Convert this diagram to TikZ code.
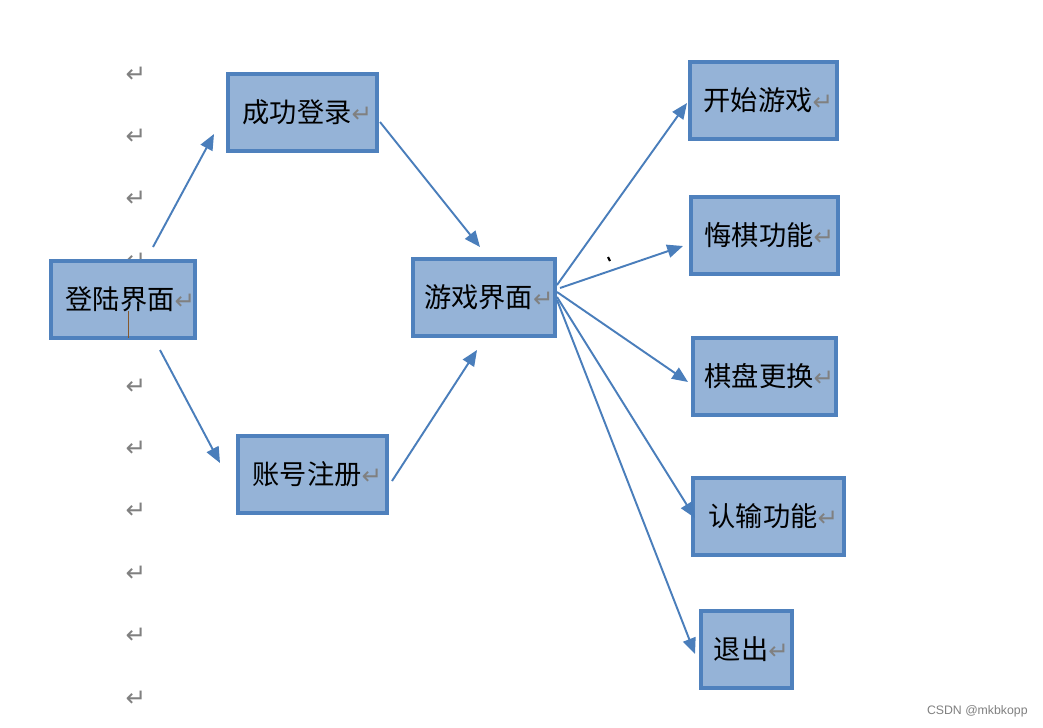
\documentclass[tikz,border=0pt]{standalone}
\usepackage{fontspec}
\newfontfamily\cjk{Noto Sans CJK SC}
\newfontfamily\symb{DejaVu Sans}
\newfontfamily\wm{Liberation Sans}
\usetikzlibrary{arrows.meta}
\definecolor{boxfill}{HTML}{95B3D7}
\definecolor{boxline}{HTML}{4F81BD}
\definecolor{arrline}{HTML}{4A7EBB}
\newcommand{\ret}{{\color{gray}\symb\fontsize{14}{16}\selectfont ↵}}
\tikzset{
  box/.style={draw=boxline, fill=boxfill, line width=2.5pt, minimum height=1.54cm,
    inner sep=0pt, font=\cjk\fontsize{15.5}{18}\selectfont,
    execute at begin node={\hspace{0.2cm}}},
  arr/.style={draw=arrline, line width=1.1pt, -{Triangle[length=9pt,width=7.5pt]}}
}
\begin{document}
\begin{tikzpicture}[x=0.02cm,y=-0.02cm]
   \useasboundingbox[fill=white] (0,0) rectangle (1043,727);
   % paragraph marks in the left column
   \foreach \y in {75,137,199,261,387,449,511,574,636,699}
      \node[inner sep=0pt] at (136,\y) {\ret};
   % boxes
   \node[box, minimum width=2.84cm] (login) at (123,299.5) {\hspace{0.1cm}登陆界面\ret};
   \node[box, minimum width=2.98cm] (succ) at (302.5,112.5) {成功登录\ret};
   \node[box, minimum width=2.98cm] (reg) at (312.5,474.5) {账号注册\ret};
   \node[box, minimum width=2.84cm] (game) at (484,297.5) {游戏界面\ret};
   \node[box, minimum width=2.94cm] (start) at (763.5,100.5) {开始游戏\ret};
   \node[box, minimum width=2.94cm] (undo) at (764.5,235.5) {悔棋功能\ret};
   \node[box, minimum width=2.86cm] (board) at (764.5,376.5) {棋盘更换\ret};
   \node[box, minimum width=3.02cm] (quit) at (768.5,516.5) {认输功能\ret};
   \node[box, minimum width=1.82cm] (exit) at (746.5,649.5) {退出\ret};
   % arrow ends
   \coordinate (l1) at (153,247);   \coordinate (s1) at (214,134);
   \coordinate (l2) at (160,350);   \coordinate (r1) at (220,463);
   \coordinate (s2) at (380,122);   \coordinate (g1) at (480,247);
   \coordinate (r2) at (392,481);   \coordinate (g2) at (477,350);
   \coordinate (g3) at (557,285);   \coordinate (t1) at (687,103);
   \coordinate (g4) at (560,288);   \coordinate (u1) at (683,246);
   \coordinate (g5) at (557,292);   \coordinate (b1) at (688,382);
   \coordinate (g6) at (557,297);   \coordinate (q1) at (695,518);
   \coordinate (g7) at (557,300);   \coordinate (e1) at (695,654);
   \draw[arr] (l1) -- (s1);
   \draw[arr] (l2) -- (r1);
   \draw[arr] (s2) -- (g1);
   \draw[arr] (r2) -- (g2);
   \draw[arr] (g3) -- (t1);
   \draw[arr] (g4) -- (u1);
   \draw[arr] (g5) -- (b1);
   \draw[arr] (g6) -- (q1);
   \draw[arr] (g7) -- (e1);
   % stray marks
   \draw[brown!70!black, line width=0.5pt] (128,311) -- (128,338);
   \draw[line width=1.2pt] (608,257) -- (610,261);
   \node[anchor=east, inner sep=0pt, text=gray, font=\wm\fontsize{7}{9}\selectfont] (mark) at (1028,711) {CSDN @mkbkopp};
\end{tikzpicture}
\end{document}
